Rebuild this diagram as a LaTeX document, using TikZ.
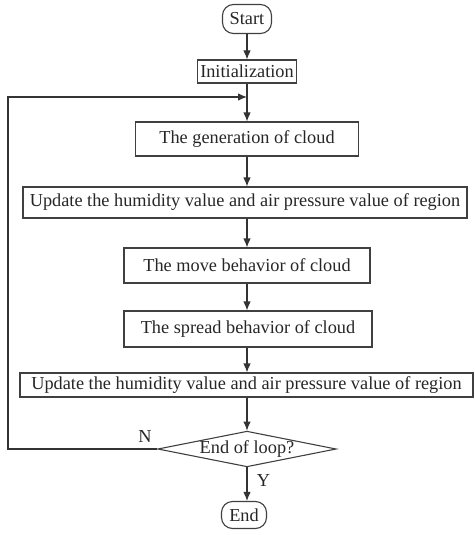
\documentclass[tikz,border=0pt]{standalone}
\usepackage{fontspec}
\setmainfont{Liberation Serif}
\usetikzlibrary{arrows.meta,shapes.geometric}

\begin{document}
\begin{tikzpicture}[x=1pt,y=-1pt,
    every node/.style={font=\fontsize{18.3}{21}\selectfont,text=black!85},
    box/.style={draw=black!75,line width=1.1pt,inner sep=0pt},
    term/.style={box,rounded corners=11pt},
    test/.style={box,diamond,aspect=5},
    flow/.style={draw=black!80,line width=1.1pt,-{Latex[length=9pt,width=7.5pt]}}]

% Fix the page size.
\useasboundingbox (0,0) rectangle (474,535);

% Boxes of the chart, top to bottom.
\node[term,minimum width=49pt,minimum height=29pt] (start) at (247,19) {Start};
\node[box,minimum width=99pt,minimum height=23pt] (init) at (247,71.5) {Initialization};
\node[box,minimum width=223pt,minimum height=34pt] (gen) at (247,139) {The generation of cloud};
\node[box,minimum width=444pt,minimum height=31pt] (upda) at (245,202.5)
    {Update the humidity value and air pressure value of region};
\node[box,minimum width=246pt,minimum height=35pt] (move) at (247,265.5) {The move behavior of cloud};
\node[box,minimum width=248pt,minimum height=36pt] (spread) at (248,329) {The spread behavior of cloud};
\node[box,minimum width=453pt,minimum height=24pt] (updb) at (246.5,385)
    {Update the humidity value and air pressure value of region};
\node[test,minimum width=170pt,minimum height=34pt] (loop) at (247,449) {End of loop?};
\node[term,minimum width=45pt,minimum height=27pt] (end) at (244,515) {End};

% Join point of the loop back.
\coordinate (join) at (247,97);
\coordinate (left) at (8,449);

% Arrows down the chain.
\foreach \a/\b in {start/init,init/gen,gen/upda,upda/move,move/spread,spread/updb,updb/loop}{
    \draw[flow] (\a.south -| join) -- (\b.north -| join);
}
\draw[flow] (loop.south) -- (loop.south |- end.north)
    node[pos=0.4,right=6pt] (yes) {Y};

% Loop back on N.
\draw[flow] (loop.west) -- (left) |- (join);
\node (no) at (145,437) {N};

\end{tikzpicture}
\end{document}
